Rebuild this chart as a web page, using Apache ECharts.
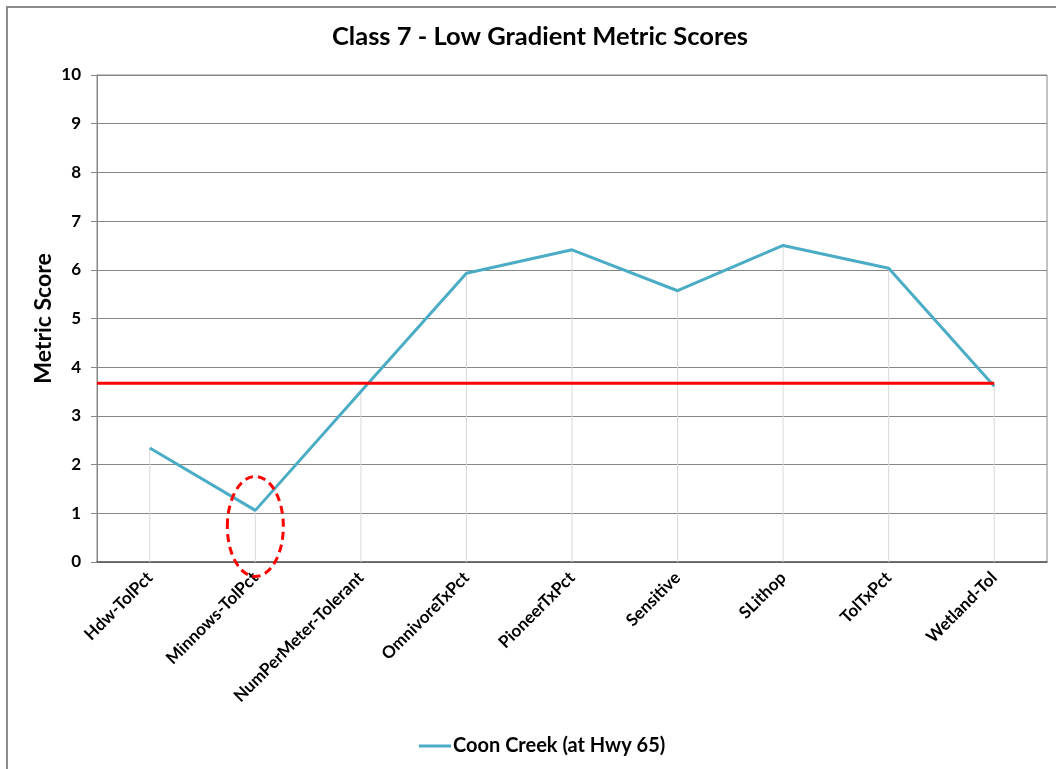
<!DOCTYPE html>
<html>
<head>
<meta charset="utf-8">
<script src="https://cdn.jsdelivr.net/npm/echarts@6/dist/echarts.min.js"></script>
<style>
html,body{margin:0;padding:0;background:#fff;}
#chart{width:1056px;height:769px;}
</style>
</head>
<body>
<div id="chart"></div>
<script>
// ---- data ----
const titleText = 'Class 7 - Low Gradient Metric Scores';
const yAxisName = 'Metric Score';
const seriesName = 'Coon Creek (at Hwy 65)';
const categories = ['Hdw-TolPct', 'Minnows-TolPct', 'NumPerMeter-Tolerant', 'OmnivoreTxPct', 'PioneerTxPct', 'Sensitive', 'SLithop', 'TolTxPct', 'Wetland-Tol'];
const scores = [2.34, 1.06, 3.5, 5.93, 6.41, 5.57, 6.5, 6.03, 3.61];
const threshold = 3.67;
const yTicks = [0, 10, 1]; // min, max, interval
const highlightCategory = 'Minnows-TolPct';
const highlightCenterValue = 0.73;

// ---- style ----
const FONT = 'Lato';
const lineColor = '#4BACC6';
const gridColor = '#868686';

const chart = echarts.init(document.getElementById('chart'));
const borderGraphic = {
  type: 'rect',
  shape: {x: 7, y: 7, width: 1200, height: 900},
  style: {fill: 'none', stroke: '#8c8c8c', lineWidth: 2},
  silent: true
};
const option = {
  animation: false,
  backgroundColor: '#ffffff',
  title: {
    text: titleText,
    left: 327,
    top: 19,
    textStyle: {fontFamily: FONT, fontWeight: 'bold', fontSize: 25.5, color: '#000'}
  },
  legend: {
    data: [seriesName],
    bottom: 8,
    left: 414,
    icon: 'rect',
    itemWidth: 32,
    itemHeight: 3,
    itemGap: 10,
    textStyle: {fontFamily: FONT, fontWeight: 'bold', fontSize: 20, color: '#000', padding: [0, 0, 0, -3]}
  },
  grid: {
    left: 97, right: 9, top: 75, bottom: 207,
    show: true, borderColor: gridColor, borderWidth: 1, backgroundColor: 'transparent'
  },
  xAxis: [{
    type: 'category',
    data: categories,
    boundaryGap: true,
    axisLine: {show: true, lineStyle: {color: '#595959', width: 1.5}},
    axisTick: {show: false},
    splitLine: {show: false},
    axisLabel: {
      rotate: 45, interval: 0, margin: 13,
      fontFamily: FONT, fontWeight: 'bold', fontSize: 17, color: '#000'
    }
  }, {
    type: 'value', min: 0, max: categories.length, show: false, gridIndex: 0
  }],
  yAxis: {
    type: 'value',
    min: yTicks[0], max: yTicks[1], interval: yTicks[2],
    name: yAxisName,
    nameLocation: 'middle',
    nameMoveOverlap: false,
    nameGap: 42,
    nameTextStyle: {fontFamily: FONT, fontWeight: 'bold', fontSize: 23, color: '#000'},
    axisLine: {show: true, lineStyle: {color: gridColor, width: 1}},
    axisTick: {show: true, inside: false, length: 6, lineStyle: {color: gridColor}},
    splitLine: {show: true, lineStyle: {color: gridColor, width: 1}},
    axisLabel: {margin: 16, fontFamily: FONT, fontWeight: 'bold', fontSize: 17, color: '#000'}
  },
  series: [{
    name: 'drop',
    type: 'bar',
    data: scores,
    barWidth: 1,
    silent: true,
    itemStyle: {color: '#d9d9d9'},
    z: 1
  }, {
    name: seriesName,
    type: 'line',
    data: scores,
    symbol: 'none',
    showSymbol: false,
    lineStyle: {color: lineColor, width: 3},
    itemStyle: {color: lineColor},
    z: 3
  }, {
    name: 'threshold',
    type: 'line',
    xAxisIndex: 1,
    data: [[0, threshold], [categories.length - 0.5, threshold]],
    symbol: 'none',
    lineStyle: {color: '#FF0000', width: 3},
    z: 4
  }],
  graphic: [borderGraphic]
};
chart.setOption(option);

const c = chart.convertToPixel({xAxisIndex: 0, yAxisIndex: 0}, [highlightCategory, highlightCenterValue]);
chart.setOption({
  graphic: [borderGraphic, {
    type: 'ellipse',
    shape: {cx: c[0], cy: c[1], rx: 28, ry: 50},
    style: {fill: 'none', stroke: '#FF0000', lineWidth: 3, lineDash: [8, 5]},
    z: 10,
    silent: true
  }]
});
</script>
</body>
</html>
